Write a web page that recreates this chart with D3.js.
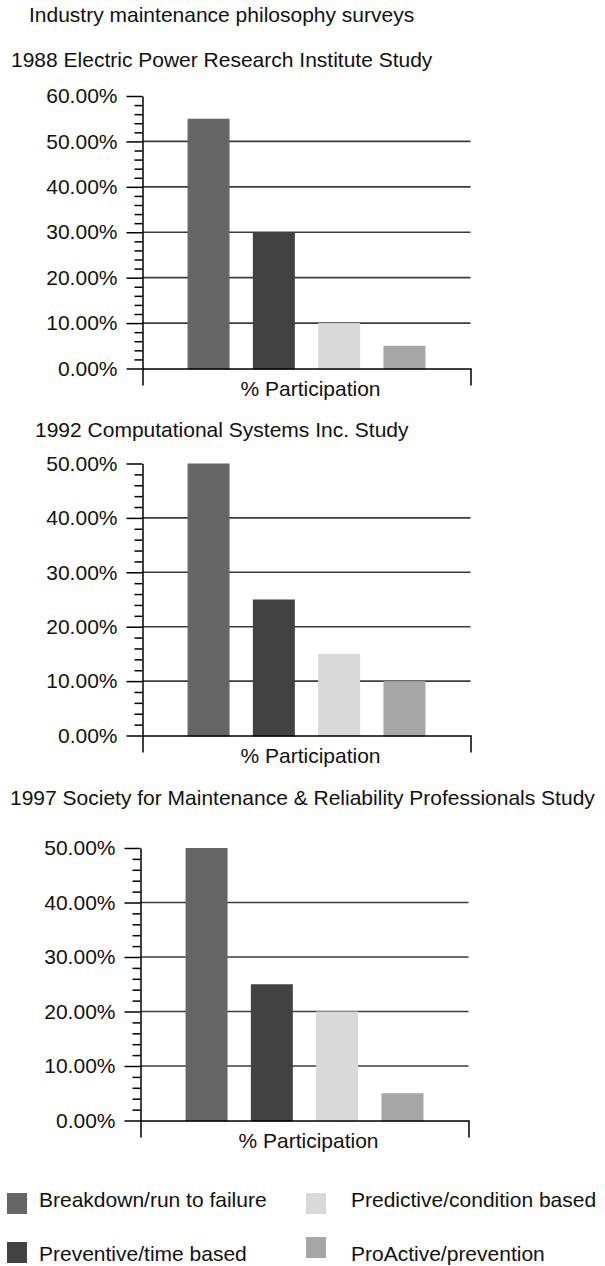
<!DOCTYPE html>
<html>
<head>
<meta charset="utf-8">
<script src="https://cdn.jsdelivr.net/npm/d3@7"></script>
<style>
  body { margin: 0; background: #fff; }
  svg text { font-family: "Liberation Sans", Arial, Helvetica, sans-serif; fill: #111; }
</style>
</head>
<body>
<div id="chart"></div>
<script>
    // survey data
    const categories = ['Breakdown/run to failure', 'Preventive/time based',
      'Predictive/condition based', 'ProActive/prevention'];
    const barColors = ['#666666', '#424242', '#d9d9d9', '#a6a6a6'];

    const studyTitles = ['1988 Electric Power Research Institute Study',
      '1992 Computational Systems Inc. Study',
      '1997 Society for Maintenance & Reliability Professionals Study'];
    const values1988 = [0.55, 0.30, 0.10, 0.05];
    const values1992 = [0.50, 0.25, 0.15, 0.10];
    const values1997 = [0.50, 0.25, 0.20, 0.05];
    const yMaxes = [0.60, 0.50, 0.50];
    const xLabel = '% Participation';

    const width = 605, height = 1266;
    const fontSize = 21;

    // where each panel sits on the page
    const panels = [
      { title: studyTitles[0], values: values1988, yMax: yMaxes[0], tx: 11, ty: 67, left: 142.5, right: 470.5, top: 96, bottom: 368.5 },
      { title: studyTitles[1], values: values1992, yMax: yMaxes[1], tx: 35, ty: 437, left: 142.5, right: 470.5, top: 463.5, bottom: 735.5 },
      { title: studyTitles[2], values: values1997, yMax: yMaxes[2], tx: 10, ty: 805, left: 140.5, right: 468.5, top: 848, bottom: 1120.5 }
    ];

    const svg = d3.select('#chart').append('svg')
      .attr('width', width)
      .attr('height', height)
      .style('font-size', fontSize + 'px');

    svg.append('text')
      .attr('x', 29)
      .attr('y', 22)
      .text('Industry maintenance philosophy surveys');

    const pct = d3.format('.2%');

    panels.forEach(p => {
      const g = svg.append('g');

      g.append('text')
        .attr('x', p.tx)
        .attr('y', p.ty)
        .text(p.title);

      const x = d3.scaleBand()
        .domain(categories)
        .range([p.left, p.right])
        .paddingInner(0.357)
        .paddingOuter(0.69);

      const y = d3.scaleLinear()
        .domain([0, p.yMax])
        .range([p.bottom, p.top]);

      const majors = d3.range(0, p.yMax + 1e-9, 0.1);
      const minors = d3.range(0, p.yMax + 1e-9, 0.02).filter(v => Math.abs(v * 10 - Math.round(v * 10)) > 1e-6);

      // gridlines (not at 0 and not at the top tick)
      g.append('g')
        .selectAll('line')
        .data(majors.filter(v => v > 0.001 && v < p.yMax - 0.001))
        .join('line')
        .attr('x1', p.left)
        .attr('x2', p.right)
        .attr('y1', d => y(d))
        .attr('y2', d => y(d))
        .attr('stroke', '#3c3c3c')
        .attr('stroke-width', 1.6);

      g.append('g')
        .selectAll('rect')
        .data(p.values)
        .join('rect')
        .attr('x', (d, i) => x(categories[i]))
        .attr('width', x.bandwidth())
        .attr('y', d => y(d))
        .attr('height', d => y(0) - y(d) + 1)
        .attr('fill', (d, i) => barColors[i]);

      // minor ticks
      g.append('g')
        .attr('transform', `translate(${p.left},0)`)
        .call(d3.axisLeft(y).tickValues(minors).tickSize(8).tickSizeOuter(0).tickFormat(''))
        .call(a => a.select('.domain').remove())
        .call(a => a.selectAll('line').attr('stroke', '#000').attr('stroke-width', 1.5));

      // major ticks + labels
      g.append('g')
        .attr('transform', `translate(${p.left},0)`)
        .call(d3.axisLeft(y).tickValues(majors).tickSize(16).tickSizeOuter(0).tickPadding(9).tickFormat(pct))
        .call(a => a.selectAll('text').style('font-size', fontSize + 'px').attr('fill', '#111').style('font-family', null))
        .call(a => a.select('.domain').attr('stroke', '#000').attr('stroke-width', 1.5))
        .call(a => a.selectAll('line').attr('stroke', '#000').attr('stroke-width', 1.5));

      // category axis: no ticks, outer ends hang down
      const xAxisScale = d3.scaleLinear().domain([0, 1]).range([p.left, p.right]);
      g.append('g')
        .attr('transform', `translate(0,${p.bottom})`)
        .call(d3.axisBottom(xAxisScale).tickValues([]).tickSizeOuter(17))
        .call(a => a.select('.domain').attr('stroke', '#000').attr('stroke-width', 1.5));

      g.append('text')
        .attr('x', (p.left + p.right) / 2 + 4)
        .attr('y', p.bottom + 27)
        .attr('text-anchor', 'middle')
        .text(xLabel);
    });

    // legend
    const legendPos = [
      { sx: 7, sy: 1193, tx: 39, ty: 1207 },
      { sx: 7, sy: 1242, tx: 39, ty: 1261 },
      { sx: 306, sy: 1193, tx: 351, ty: 1207 },
      { sx: 306, sy: 1237, tx: 351, ty: 1261 }
    ];

    const legend = svg.append('g')
      .selectAll('g')
      .data(categories)
      .join('g');

    legend.append('rect')
      .attr('x', (d, i) => legendPos[i].sx)
      .attr('y', (d, i) => legendPos[i].sy)
      .attr('width', 20)
      .attr('height', 21)
      .attr('fill', (d, i) => barColors[i]);

    legend.append('text')
      .attr('x', (d, i) => legendPos[i].tx)
      .attr('y', (d, i) => legendPos[i].ty)
      .text(d => d);
</script>
</body>
</html>
